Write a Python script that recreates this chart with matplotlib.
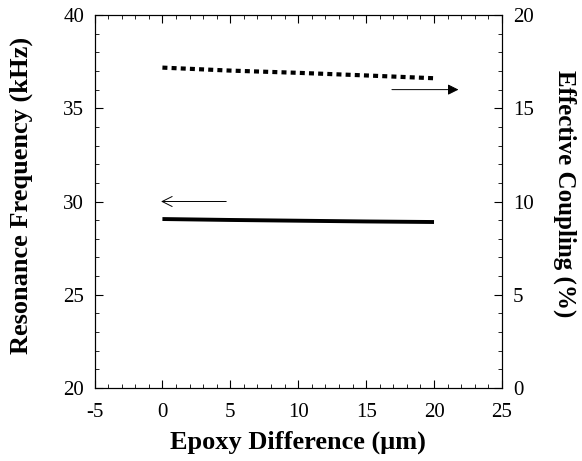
import matplotlib
matplotlib.use('Agg')
import matplotlib.pyplot as plt
from matplotlib.ticker import MultipleLocator

plt.rcParams['font.family'] = ['Liberation Serif', 'DejaVu Serif']
plt.rcParams['axes.unicode_minus'] = False

# epoxy thickness difference (um)
epoxy = [0, 5, 10, 15, 20]
# resonance frequency (kHz), left axis
frequency = [29.06, 29.01, 28.97, 28.93, 28.90]
# effective coupling (%), right axis
coupling = [17.18, 17.02, 16.90, 16.76, 16.61]

fig = plt.figure(figsize=(5.82, 4.61), dpi=100)
ax = fig.add_axes([0.1624, 0.1584, 0.700, 0.809])
ax2 = ax.twinx()

ax.plot(epoxy, frequency, color='black', linewidth=2.8, solid_capstyle='butt')
ax2.plot(epoxy, coupling, color='black', linewidth=3.0,
         linestyle=(0, (1.2, 1.0)), dash_capstyle='butt')

ax.set_xlim(-5, 25)
ax.set_ylim(20, 40)
ax2.set_ylim(0, 20)

ax.xaxis.set_major_locator(MultipleLocator(5))
ax.xaxis.set_minor_locator(MultipleLocator(1))
ax.yaxis.set_major_locator(MultipleLocator(5))
ax.yaxis.set_minor_locator(MultipleLocator(1))
ax2.yaxis.set_major_locator(MultipleLocator(5))
ax2.yaxis.set_minor_locator(MultipleLocator(1))

for a in (ax, ax2):
    a.tick_params(which='both', direction='in', labelsize=15)
    a.tick_params(which='major', length=6, width=0.8)
    a.tick_params(which='minor', length=3, width=0.6)
ax.tick_params(which='both', top=True, right=False)
ax.tick_params(axis='x', pad=11)
ax.tick_params(axis='y', pad=7.5)
ax2.tick_params(axis='y', pad=8)

# arrows showing which axis each curve belongs to
ax.annotate('', xy=(-0.1, 30), xytext=(4.7, 30),
            arrowprops=dict(arrowstyle='->', lw=0.7, color='black',
                            mutation_scale=18, shrinkA=0, shrinkB=0))
ax.annotate('', xy=(21.8, 36), xytext=(16.9, 36),
            arrowprops=dict(arrowstyle='-|>', lw=0.7, color='black',
                            mutation_scale=16, shrinkA=0, shrinkB=0))

ax.set_xlabel('Epoxy Difference (\u03bcm)', fontsize=19, fontweight='bold')
ax.xaxis.set_label_coords(0.5, -0.115)
ax.set_ylabel('Resonance Frequency (kHz)', fontsize=19, fontweight='bold')
ax.yaxis.set_label_coords(-0.151, 0.515)
ax2.set_ylabel('Effective Coupling (%)', fontsize=18, fontweight='bold', rotation=-90)
ax2.yaxis.label.set_va('bottom')
ax2.yaxis.set_label_coords(1.125, 0.52)

fig.savefig('out.png', dpi=100)
